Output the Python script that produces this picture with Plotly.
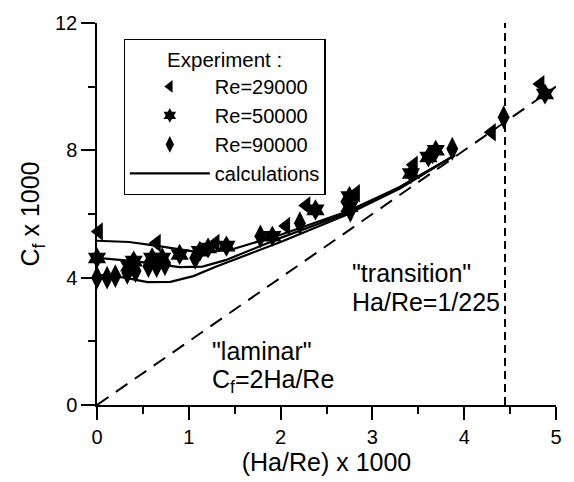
import plotly.graph_objects as go

# ---- data ----
re29_x = [0.02, 0.65, 1.29, 2.06, 2.28, 2.82, 3.45, 3.62, 4.30, 4.83]
re29_y = [5.45, 5.09, 5.09, 5.62, 6.27, 6.65, 7.55, 7.85, 8.57, 10.08]

re50_x = [0.0, 0.35, 0.40, 0.60, 0.71, 0.90, 1.12, 1.21, 1.41, 1.91, 2.38, 2.75, 2.75, 3.42, 3.61, 3.69, 4.88]
re50_y = [4.62, 4.36, 4.52, 4.62, 4.62, 4.73, 4.83, 4.93, 4.99, 5.30, 6.13, 6.55, 6.23, 7.27, 7.79, 8.00, 9.77]

re90_x = [0.0, 0.11, 0.20, 0.33, 0.42, 0.56, 0.65, 0.74, 1.07, 1.78, 2.21, 2.76, 3.87, 4.43]
re90_y = [4.0, 4.0, 4.05, 4.15, 4.21, 4.36, 4.36, 4.42, 4.62, 5.30, 5.71, 6.10, 8.05, 9.04]

calcA_x = [0, 0.35, 0.6, 0.9, 1.1, 1.45, 2.0, 2.7, 3.3, 3.9]
calcA_y = [5.16, 5.12, 5.02, 4.88, 4.80, 4.87, 5.35, 6.05, 6.85, 7.85]
calcB_x = [0, 0.4, 0.9, 1.15, 1.4, 2.0, 2.7, 3.3, 3.9]
calcB_y = [4.62, 4.52, 4.33, 4.35, 4.55, 5.25, 6.00, 6.85, 7.85]
calcC_x = [0, 0.3, 0.55, 0.8, 1.05, 1.3, 2.0, 2.7, 3.3, 3.9]
calcC_y = [4.10, 4.00, 3.86, 3.87, 4.05, 4.35, 5.12, 5.95, 6.80, 7.85]

laminar_x = [0, 5]
laminar_y = [0, 10]          # Cf = 2 Ha/Re
transition_x = [1000 / 225, 1000 / 225]
transition_y = [0, 12]

x_ticks = [0, 1, 2, 3, 4, 5]
y_ticks = [0, 4, 8, 12]

series = [
    ("Re=29000", re29_x, re29_y, "triangle-left", 16, 11),
    ("Re=50000", re50_x, re50_y, "hexagram", 16, 11),
    ("Re=90000", re90_x, re90_y, "diamond-tall", 17, 12),
]

FONT = "Liberation Sans, Arial, Helvetica, sans-serif"

fig = go.Figure()

fig.add_trace(go.Scatter(x=laminar_x, y=laminar_y, mode="lines", showlegend=False,
                         line=dict(color="black", width=2, dash="14px,9px"), hoverinfo="skip"))
fig.add_trace(go.Scatter(x=transition_x, y=transition_y, mode="lines", showlegend=False,
                         line=dict(color="black", width=2, dash="8px,5px"), hoverinfo="skip"))

for i, (cx, cy) in enumerate([(calcA_x, calcA_y), (calcB_x, calcB_y), (calcC_x, calcC_y)]):
    fig.add_trace(go.Scatter(x=cx, y=cy, mode="lines", name="calculations",
                             legendgroup="calc", showlegend=(i == 0),
                             line=dict(color="black", width=2.2), legendrank=4))

for rank, (name, sx, sy, sym, size, lsize) in enumerate(series, start=1):
    # data points
    fig.add_trace(go.Scatter(x=sx, y=sy, mode="markers", name=name, legendgroup=name,
                             showlegend=False,
                             marker=dict(symbol=sym, size=size, color="black")))
    # legend entry (smaller symbol, as in the reference key)
    fig.add_trace(go.Scatter(x=[None], y=[None], mode="markers", name=name, legendgroup=name,
                             legendrank=rank,
                             marker=dict(symbol=sym, size=lsize, color="black")))

fig.update_traces(cliponaxis=False)

fig.update_layout(
    width=574, height=482,
    margin=dict(l=97, r=13, t=20, b=77),
    plot_bgcolor="white", paper_bgcolor="white",
    font=dict(family=FONT, color="black", size=20),
    showlegend=True,
    legend=dict(
        x=0.058, y=0.958, xanchor="left", yanchor="top",
        bordercolor="black", borderwidth=1.2, bgcolor="white",
        font=dict(size=20), itemwidth=80,
        title=dict(text="Experiment :", side="top center", font=dict(size=20.5)),
        tracegroupgap=0,
    ),
    xaxis=dict(
        range=[0, 5], tickvals=x_ticks, ticktext=[str(v) for v in x_ticks],
        showgrid=False, zeroline=False, showline=True, linecolor="black", linewidth=1.5,
        ticks="outside", ticklen=13, tickwidth=1.5, tickcolor="black",
        minor=dict(dtick=0.5, ticks="outside", ticklen=7, tickwidth=1.5, tickcolor="black"),
        tickfont=dict(size=20),
        title=dict(text="(Ha/Re) x 1000", font=dict(size=25), standoff=4),
    ),
    yaxis=dict(
        range=[0, 12], tickvals=y_ticks, ticktext=[str(v) for v in y_ticks],
        showgrid=False, zeroline=False, showline=True, linecolor="black", linewidth=1.5,
        ticks="outside", ticklen=14, tickwidth=1.5, tickcolor="black",
        minor=dict(dtick=2, ticks="outside", ticklen=7, tickwidth=1.5, tickcolor="black"),
        tickfont=dict(size=20),
        title=dict(text="C<sub>f</sub> x 1000", font=dict(size=25), standoff=8),
    ),
    annotations=[
        dict(x=2.76, y=4.15, xref="x", yref="y", text="\"transition\"", showarrow=False,
             xanchor="left", yanchor="middle", font=dict(size=25)),
        dict(x=2.76, y=3.25, xref="x", yref="y", text="Ha/Re=1/225", showarrow=False,
             xanchor="left", yanchor="middle", font=dict(size=25)),
        dict(x=1.23, y=1.71, xref="x", yref="y", text="\"laminar\"", showarrow=False,
             xanchor="left", yanchor="middle", font=dict(size=25)),
        dict(x=1.23, y=0.75, xref="x", yref="y", text="C<sub>f</sub>=2Ha/Re", showarrow=False,
             xanchor="left", yanchor="middle", font=dict(size=25)),
    ],
)

fig.write_html("out.html")
